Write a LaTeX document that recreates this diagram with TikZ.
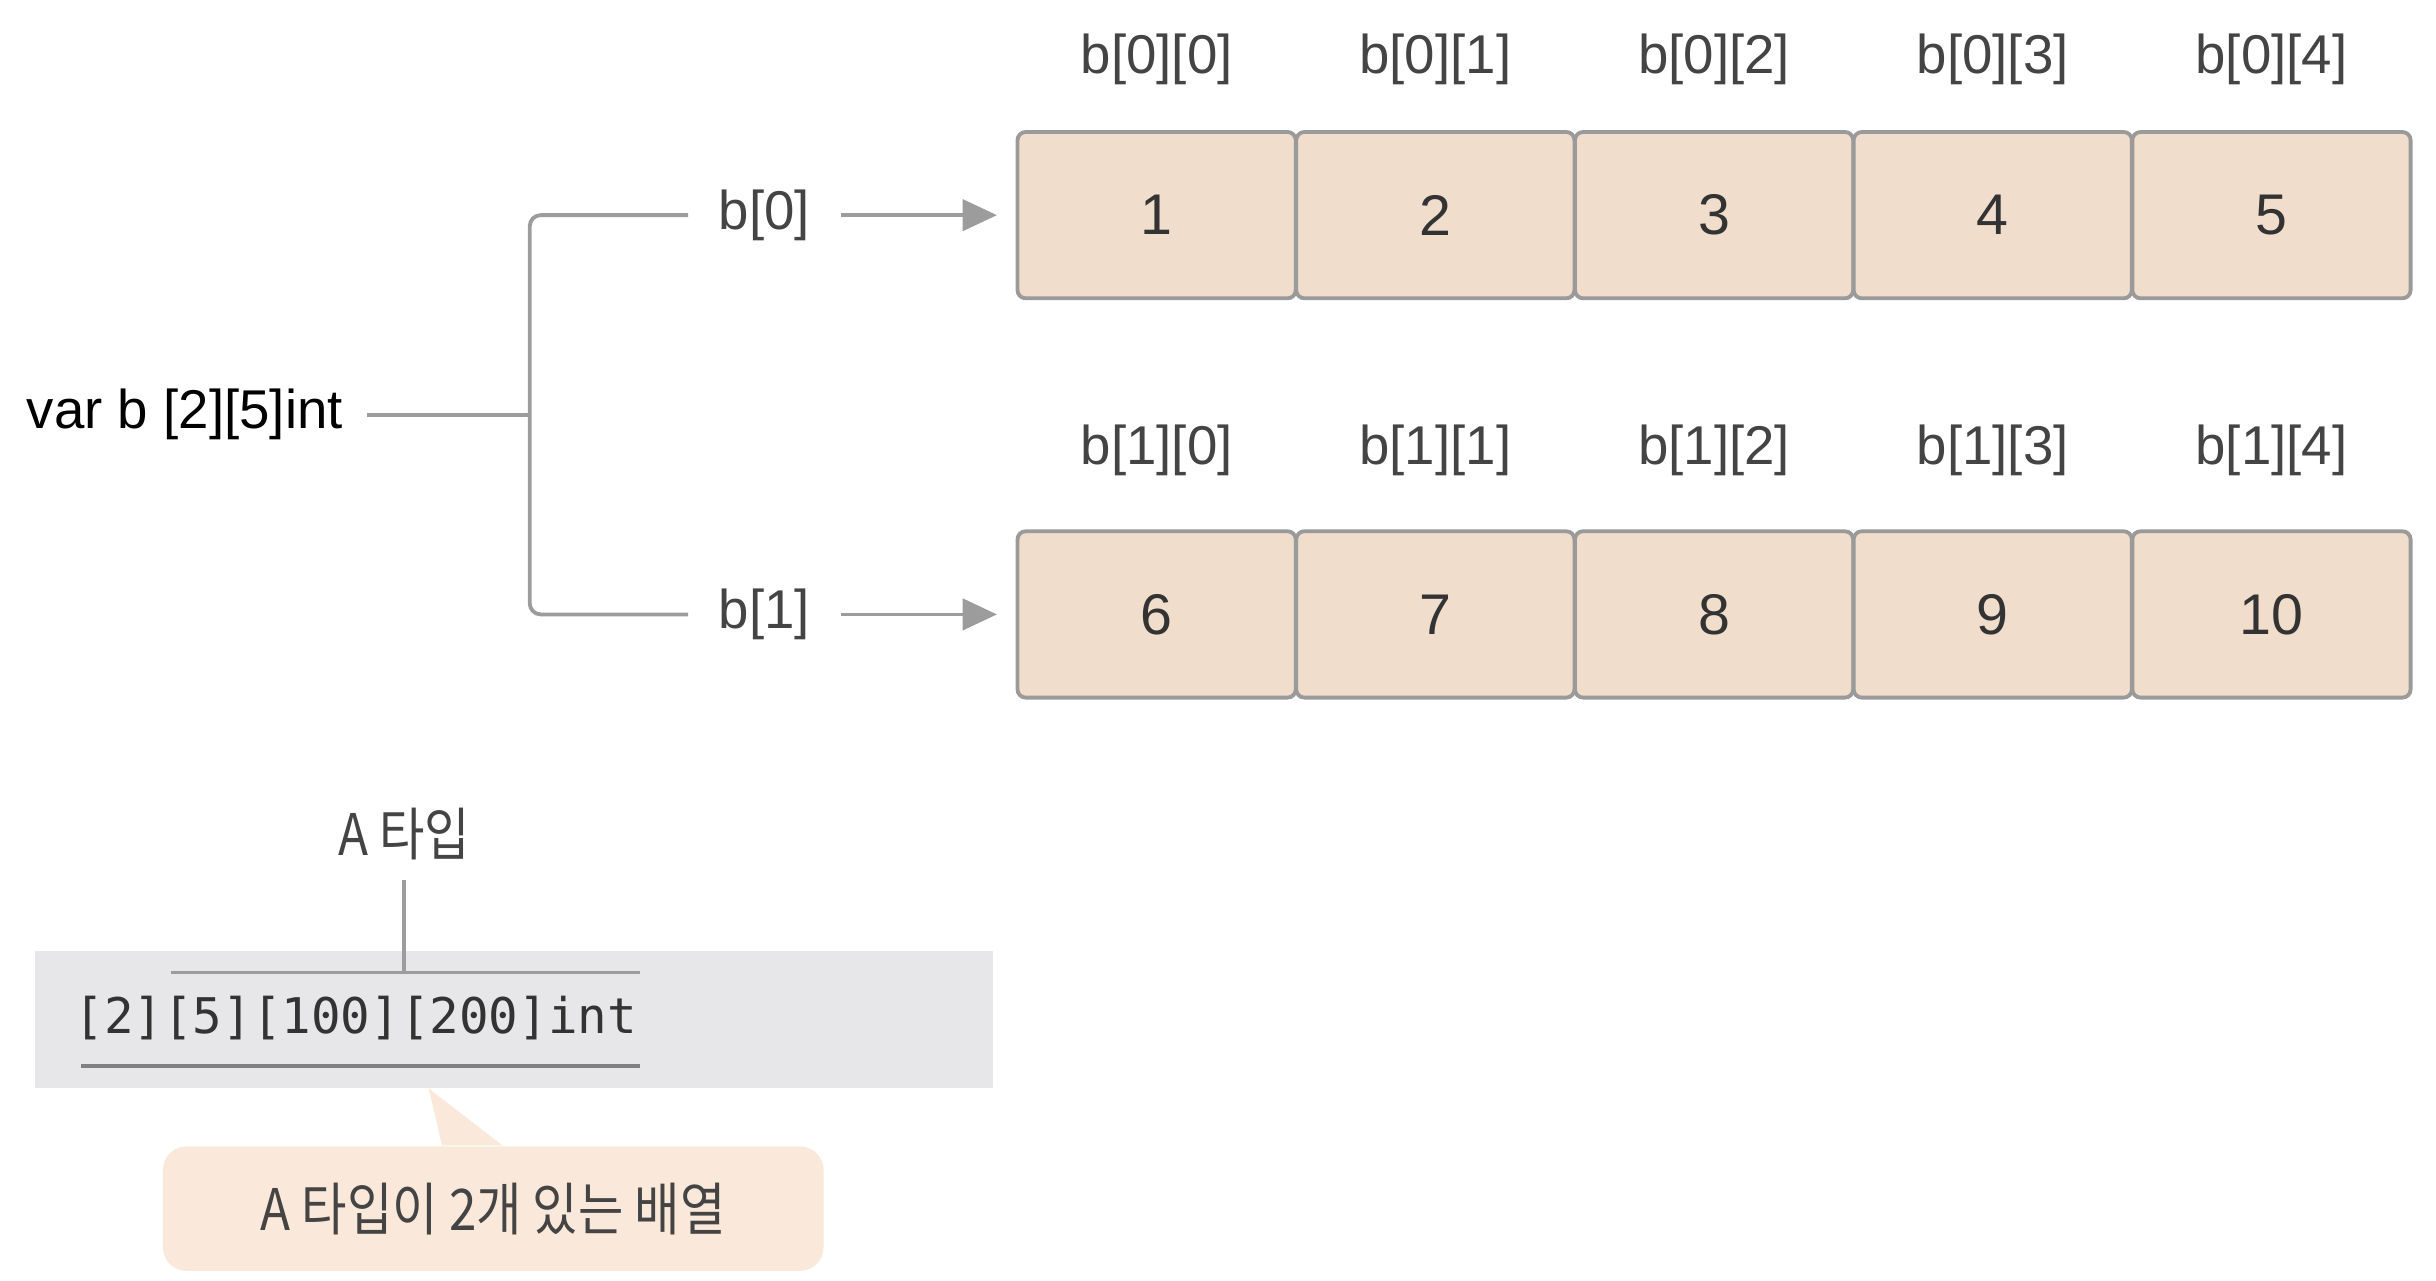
\documentclass[tikz,border=0pt]{standalone}
\usepackage{fontspec}
\setmainfont{Liberation Sans}
\setmonofont{DejaVu Sans Mono}
\newfontfamily\kr[FakeStretch=0.86]{Noto Sans CJK KR}
\usetikzlibrary{arrows.meta,positioning}
\definecolor{cellfill}{HTML}{F0DDCB}
\definecolor{cellline}{HTML}{9A9A9A}
\definecolor{linkgray}{HTML}{9C9C9C}
\definecolor{labeltext}{HTML}{444444}
\definecolor{numtext}{HTML}{333333}
\definecolor{codebg}{HTML}{E7E7E9}
\definecolor{notefill}{HTML}{FAE9DB}

\begin{document}
\begin{tikzpicture}[x=0.01cm,y=0.01cm,
  cell/.style={draw=cellline,fill=cellfill,line width=0.7pt,rounded corners=1.5pt,
    minimum width=1.79cm,minimum height=1.07cm,inner sep=0pt,
    font=\fontsize{10.5}{12}\selectfont,text=numtext},
  idx/.style={font=\fontsize{10}{12}\selectfont,text=labeltext},
  link/.style={draw=linkgray,line width=0.7pt},
  ptr/.style={link,-{Triangle[length=0.22cm,width=0.2cm]},shorten >=0.12cm}]
  \useasboundingbox (0,0) rectangle (1568,824);

  % the two rows of b
  \foreach \row/\y/\dy in {0/685.5/100.5,1/428.5/105.5}{
    \foreach \col in {0,...,4}{
      \pgfmathtruncatemacro\val{\row*5+\col+1}
      \node[cell] (c\row\col) at ({744.5+\col*179.4},\y) {\val};
      \node[idx] (l\row\col) at ({744.5+\col*179.4},\y+\dy) {b[\row][\col]};
    }
  }

  % declaration and row pointers
  \node[idx,text=black,inner xsep=0.15cm] (var) at (119,557) {var b [2][5]int};
  \node[idx,inner xsep=0.19cm] (b0) at (492,685.5) {b[0]};
  \node[idx,inner xsep=0.19cm] (b1) at (492,428.5) {b[1]};
  \coordinate (fork) at (341,557);
  \draw[link] (var.east) -- (fork);
  \draw[link,rounded corners=2pt] (b0.west) -| (fork) |- (b1.west);
  \draw[ptr] (b0.east) -- (c00.west);
  \draw[ptr] (b1.east) -- (c10.west);

  % type breakdown
  \node[fill=codebg,minimum width=6.16cm,minimum height=0.88cm,inner sep=0pt] (box) at (331,168) {};
  \node[font=\ttfamily\fontsize{9}{11}\selectfont,text=numtext] (code) at (229,169) {[2][5][100][200]int};
  \coordinate (ol0) at (110,198);
  \coordinate (ol1) at (412,198);
  \coordinate (ul0) at (52,138);
  \coordinate (ul1) at (412,138);
  \draw[link] (ol0) -- (ol1);
  \draw[link,draw=gray] (ul0) -- (ul1);
  \node[font=\kr\fontsize{10.5}{12}\selectfont,text=labeltext] (atype) at (260,287) {A 타입};
  \draw[link] (atype.south) -- (atype.south |- ol0);

  % note
  \node[fill=notefill,rounded corners=0.15cm,minimum width=4.25cm,minimum height=0.8cm,
    font=\kr\fontsize{10.5}{12}\selectfont,text=labeltext] (note) at (317.5,46) {A 타입이 2개 있는 배열};
  \fill[notefill] (box.south -| 276,0) -- ([xshift=-0.33cm]note.north) -- ([xshift=0.06cm]note.north) -- cycle;
\end{tikzpicture}
\end{document}
